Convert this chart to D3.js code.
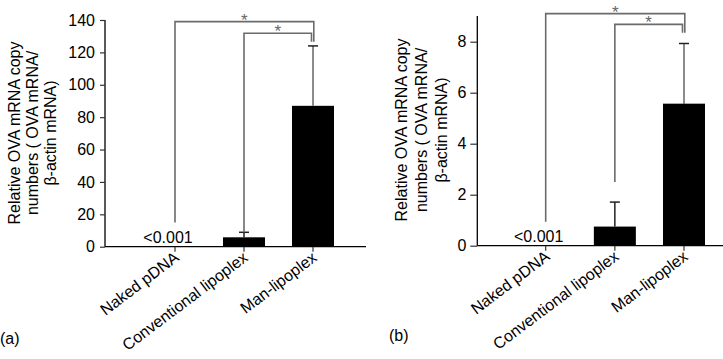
<!DOCTYPE html>
<html><head><meta charset="utf-8">
<script src="https://cdn.jsdelivr.net/npm/d3@7"></script>
<style>body{margin:0;background:#fff}svg{display:block}text{font-family:"Liberation Sans",Arial,sans-serif}</style>
</head><body>
<svg id="c" width="723" height="359"></svg>
<script>
const categories = ["Naked pDNA", "Conventional lipoplex", "Man-lipoplex"];
const valuesA = [0, 5.8, 87];
const errorsA = [0, 8.9, 124];
const ticksA = [0, 20, 40, 60, 80, 100, 120, 140];
const valuesB = [0, 0.75, 5.57];
const errorsB = [0, 1.71, 7.93];
const ticksB = [0, 2, 4, 6, 8];
const zeroLabel = "<0.001";
const yTitle = ["Relative OVA mRNA copy", "numbers ( OVA mRNA/", "β-actin mRNA)"];
// significance: [fromIndex, toIndex, leftLegBottomValue, rightLegBottomValue, barValue]
const sigA = [[0, 2, 15, 126.5, 139], [1, 2, 8.9, 126.5, 131.8]];
const sigB = [[0, 2, 0.94, 8.35, 9.1], [1, 2, 2.5, 8.35, 8.68]];

const svg = d3.select("#c");

function panel(o) {
  const g = svg.append("g");
  const y = d3.scaleLinear().domain(o.ydom).range([o.y0, o.y1]);
  const x = d3.scalePoint().domain(categories).range(o.xr);
  // axes
  g.append("line").attr("x1", o.ax).attr("x2", o.ax).attr("y1", o.y0).attr("y2", o.yTop)
    .attr("stroke", "#000").attr("stroke-width", 1.3);
  g.append("line").attr("x1", o.ax).attr("x2", o.axEnd).attr("y1", o.y0).attr("y2", o.y0)
    .attr("stroke", "#000").attr("stroke-width", 1.3);
  const ya = d3.axisLeft(y).tickValues(o.ticks).tickSize(o.tl).tickPadding(o.pad);
  const yg = g.append("g").attr("transform", `translate(${o.ax},0)`).call(ya);
  yg.select(".domain").remove();
  yg.selectAll("line").attr("stroke", "#333").attr("stroke-width", 1.2);
  yg.selectAll("text").attr("font-size", 16).attr("fill", "#000")
    .style("font-family", '"Liberation Sans",Arial,sans-serif');
  // x ticks
  g.selectAll(".xt").data(categories).enter().append("line")
    .attr("x1", d => x(d)).attr("x2", d => x(d)).attr("y1", o.y0).attr("y2", o.y0 + 5)
    .attr("stroke", "#333").attr("stroke-width", 1.2);
  g.selectAll(".xl").data(categories).enter().append("text")
    .attr("transform", d => `translate(${x(d) + 5},${o.y0 + 13}) rotate(-37)`)
    .attr("text-anchor", "end").attr("font-size", 16).text(d => d);
  // bars
  const bw = 42;
  const vals = o.vals, errs = o.errs;
  categories.forEach((c, i) => {
    if (vals[i] <= 0) return;
    const col = i === 2 ? "#666" : "#222";
    g.append("line").attr("x1", x(c)).attr("x2", x(c)).attr("y1", y(vals[i])).attr("y2", y(errs[i]))
      .attr("stroke", col).attr("stroke-width", 1.5);
    g.append("line").attr("x1", x(c) - 5).attr("x2", x(c) + 5).attr("y1", y(errs[i])).attr("y2", y(errs[i]))
      .attr("stroke", "#222").attr("stroke-width", 1.5);
    g.append("rect").attr("x", x(c) - bw / 2).attr("width", bw)
      .attr("y", y(vals[i])).attr("height", y(0) - y(vals[i])).attr("fill", "#000");
  });
  g.append("text").attr("x", x(categories[0]) - 7).attr("y", o.y0 - 4)
    .attr("text-anchor", "middle").attr("font-size", 16).text(zeroLabel);
  // significance brackets
  o.sig.forEach((s, k) => {
    const xa = x(categories[s[0]]), xb = x(categories[s[1]]) + (k === 0 ? 0.8 : -1.5);
    const yb = y(s[4]);
    g.append("path").attr("d", `M${xa},${y(s[2])}V${yb}H${xb}V${y(s[3])}`)
      .attr("fill", "none").attr("stroke", "#6b6b6b").attr("stroke-width", 1.6);
    g.append("text").attr("x", (xa + xb) / 2).attr("y", yb + 4).attr("text-anchor", "middle")
      .attr("font-size", 17).attr("fill", "#666").text("*");
  });
  // y title
  const tg = g.append("g").attr("transform", `translate(${o.tx},${o.ty}) rotate(-90)`);
  yTitle.forEach((t, i) => {
    tg.append("text").attr("x", 0).attr("y", i * o.lh).attr("dy", "0.35em")
      .attr("text-anchor", "middle").attr("font-size", 16).text(t);
  });
  g.append("text").attr("x", o.lx).attr("y", o.ly).attr("font-size", 16).text(o.label);
}

panel({ydom: [0, 140], y0: 246.7, y1: 20, yTop: 20, ax: 105, axEnd: 366, xr: [175, 313],
  ticks: ticksA, tl: 5, pad: 5, vals: valuesA, errs: errorsA, sig: sigA,
  tx: 14, ty: 133, lh: 18, lx: 0, ly: 344, label: "(a)"});
panel({ydom: [0, 8], y0: 245.7, y1: 41.7, yTop: 16, ax: 477.3, axEnd: 723, xr: [545.7, 684],
  ticks: ticksB, tl: 7, pad: 4, vals: valuesB, errs: errorsB, sig: sigB,
  tx: 401, ty: 130, lh: 20, lx: 389, ly: 341, label: "(b)"});
</script>
</body></html>
